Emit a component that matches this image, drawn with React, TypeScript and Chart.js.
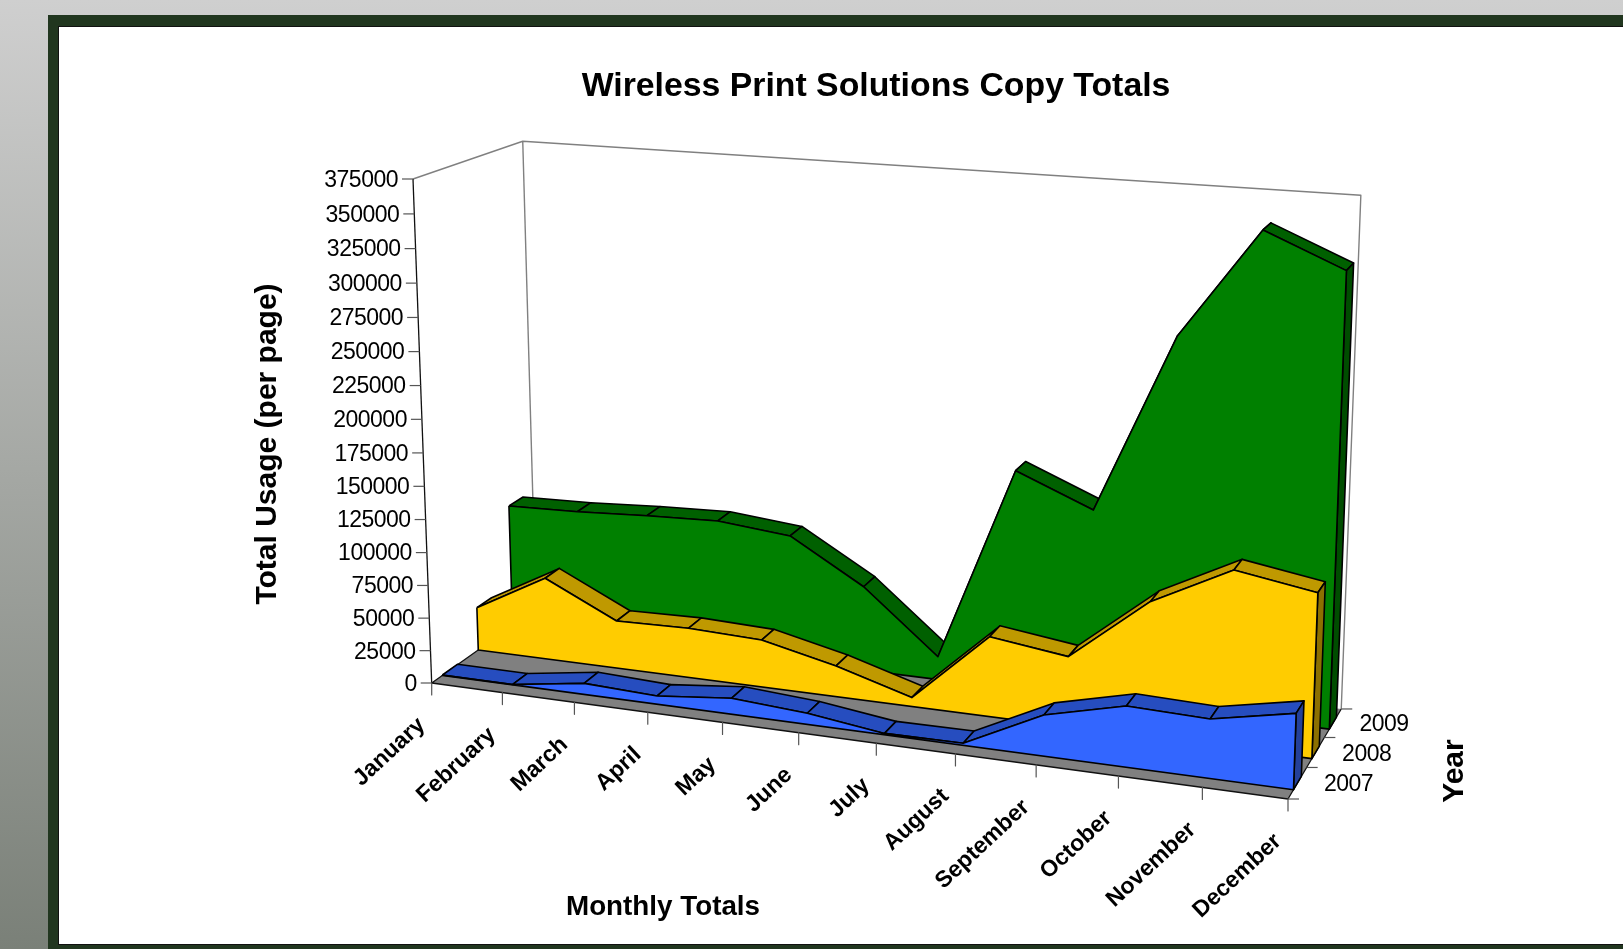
import React, { useEffect, useRef } from "react";
import { Chart, registerables } from "chart.js";

Chart.register(...registerables);

const months = ["January", "February", "March", "April", "May", "June", "July", "August", "September", "October", "November", "December"];
const years = ["2007", "2008", "2009"];
const valueTicks = [0, 25000, 50000, 75000, 100000, 125000, 150000, 175000, 200000, 225000, 250000, 275000, 300000, 325000, 350000, 375000];
const totals2007 = [300, 300, 8500, 6300, 12000, 8300, 1000, 1500, 29800, 43900, 42200, 53800];
const totals2008 = [33500, 63300, 36750, 38000, 36000, 23400, 6700, 59500, 51900, 98900, 128200, 118700];
const totals2009 = [96300, 97750, 100700, 102700, 97300, 64600, 17550, 164600, 141400, 272600, 351500, 327600];

const W = 1623;
const H = 949;
const MAX_VALUE = 375000;
const RIBBON_HALF_DEPTH = 0.07;
const BACK_WALL_TOP = 0.99;
const FONT = '"Liberation Sans", Arial, sans-serif';

// Perspective camera of the 3D box: month axis (mx), value axis (my), year axis (mz), all 0..1
function project(mx: number, my: number, mz: number) {
  const d = 1 - 0.1 * mx - 0.04 * my + 0.07 * mz;
  return {
    x: (431.7 + 727.5 * mx - 35.22 * my + 141.8 * mz) / d,
    y: (683 + 36.1 * mx - 511.16 * my - 31.4 * mz) / d,
  };
}

type P = { x: number; y: number };

function poly(points: P[], fill: string | null, stroke: string, width: number, closed = true) {
  const data = closed ? [...points, points[0]] : points;
  return {
    data,
    showLine: true,
    pointRadius: 0,
    pointHoverRadius: 0,
    borderColor: stroke,
    borderWidth: width,
    borderJoinStyle: "round" as const,
    backgroundColor: fill ?? "transparent",
    polyFill: fill,
    clip: false as const,
    tension: 0,
  };
}

const seriesStyles = [
  { values: totals2009, cell: 2, front: "#008000", top: "#006000", cap: "#004d00" },
  { values: totals2008, cell: 1, front: "#ffcc00", top: "#bf9900", cap: "#8c7000" },
  { values: totals2007, cell: 0, front: "#3366ff", top: "#264dbf", cap: "#244099" },
];

function buildDatasets() {
  const out: any[] = [];
  const grey = "#808080";
  const axis = "#111111";
  const tick = "#555555";

  // back wall cage
  out.push(poly([project(0, 1, 0), project(0, BACK_WALL_TOP, 1), project(1, BACK_WALL_TOP, 1), project(1, 0, 1)], null, grey, 1.4, false));
  out.push(poly([project(0, BACK_WALL_TOP, 1), project(0, 0, 1)], null, grey, 1.4, false));
  // floor
  out.push(poly([project(0, 0, 0), project(1, 0, 0), project(1, 0, 1), project(0, 0, 1)], grey, "transparent", 0));
  out.push(poly([project(0, 0, 1), project(0, 0, 0), project(1, 0, 0), project(1, 0, 1)], null, axis, 1.3, false));
  // value axis and ticks
  out.push(poly([project(0, 0, 0), project(0, 1, 0)], null, axis, 1.3, false));
  valueTicks.forEach((v) => {
    const p = project(0, v / MAX_VALUE, 0);
    out.push(poly([{ x: p.x - 11, y: p.y }, p], null, tick, 1.2, false));
  });
  // month ticks
  months.forEach((_, i) => {
    const p = project(i / (months.length - 1), 0, 0);
    out.push(poly([p, { x: p.x, y: p.y + 12 }], null, tick, 1.2, false));
  });
  // year ticks
  [0, 1, 2, 3].forEach((c) => {
    const p = project(1, 0, c / years.length);
    out.push(poly([p, { x: p.x + 11, y: p.y }], null, tick, 1.2, false));
  });

  seriesStyles.forEach((s) => {
    const zc = (s.cell + 0.5) / years.length;
    const zf = zc - RIBBON_HALF_DEPTH;
    const zb = zc + RIBBON_HALF_DEPTH;
    const n = s.values.length - 1;
    const f = (i: number) => project(i / n, s.values[i] / MAX_VALUE, zf);
    const b = (i: number) => project(i / n, s.values[i] / MAX_VALUE, zb);
    for (let i = 0; i < n; i++) {
      out.push(poly([f(i), f(i + 1), b(i + 1), b(i)], s.top, "#000000", 1.6));
    }
    out.push(poly([f(n), b(n), project(1, 0, zb), project(1, 0, zf)], s.cap, "#000000", 1.6));
    const face: P[] = s.values.map((_, i) => f(i));
    face.push(project(1, 0, zf), project(0, 0, zf));
    out.push(poly(face, s.front, "#000000", 1.6));
  });

  // later datasets paint over earlier ones
  out.forEach((d, i) => (d.order = -i));
  return out;
}

const polyFillPlugin = {
  id: "polyFill",
  beforeDatasetDraw(chart: any, args: any) {
    const ds = chart.data.datasets[args.index];
    if (!ds.polyFill) return;
    const ctx = chart.ctx;
    const pts = args.meta.data;
    ctx.save();
    ctx.beginPath();
    pts.forEach((p: any, i: number) => (i ? ctx.lineTo(p.x, p.y) : ctx.moveTo(p.x, p.y)));
    ctx.closePath();
    ctx.fillStyle = ds.polyFill;
    ctx.fill();
    ctx.restore();
  },
};

function rotatedText(ctx: CanvasRenderingContext2D, text: string, x: number, y: number, deg: number, align: CanvasTextAlign) {
  ctx.save();
  ctx.translate(x, y);
  ctx.rotate((deg * Math.PI) / 180);
  ctx.textAlign = align;
  ctx.textBaseline = "middle";
  ctx.fillText(text, 0, 0);
  ctx.restore();
}

const labelsPlugin = {
  id: "boxLabels",
  afterDraw(chart: any) {
    const ctx: CanvasRenderingContext2D = chart.ctx;
    const sx = chart.scales.x;
    const sy = chart.scales.y;
    const px = (p: P) => ({ x: sx.getPixelForValue(p.x), y: sy.getPixelForValue(p.y) });
    ctx.save();
    ctx.fillStyle = "#000000";

    ctx.font = `bold 33.8px ${FONT}`;
    rotatedText(ctx, "Wireless Print Solutions Copy Totals", 876, 87, 0, "center");
    ctx.font = `bold 30px ${FONT}`;
    rotatedText(ctx, "Total Usage (per page)", 268, 444, -90, "center");
    rotatedText(ctx, "Year", 1455, 771, -90, "center");
    ctx.font = `bold 27.8px ${FONT}`;
    rotatedText(ctx, "Monthly Totals", 663, 907, 0, "center");

    ctx.font = `23px ${FONT}`;
    (ctx as any).letterSpacing = "-0.5px";
    valueTicks.forEach((v) => {
      const p = px(project(0, v / MAX_VALUE, 0));
      rotatedText(ctx, String(v), p.x - 15, p.y + 1.5, 0, "right");
    });
    years.forEach((y, c) => {
      const p = px(project(1, 0, (c + 0.5) / years.length));
      rotatedText(ctx, y, p.x + 26.5, p.y + 2, 0, "left");
    });
    (ctx as any).letterSpacing = "0px";
    ctx.font = `bold 23px ${FONT}`;
    months.forEach((m, i) => {
      const p = px(project(i / (months.length - 1), 0, 0));
      rotatedText(ctx, m, p.x - 10, p.y + 39, -43, "right");
    });
    ctx.restore();
  },
};

export default function App() {
  const ref = useRef<HTMLCanvasElement>(null);
  useEffect(() => {
    const chart = new Chart(ref.current as HTMLCanvasElement, {
      type: "scatter",
      data: { datasets: buildDatasets() },
      options: {
        animation: false,
        responsive: false,
        maintainAspectRatio: false,
        layout: { padding: 0 },
        events: [],
        plugins: { legend: { display: false }, tooltip: { enabled: false }, title: { display: false } },
        scales: {
          x: { type: "linear", min: 0, max: W, display: false },
          y: { type: "linear", min: 0, max: H, reverse: true, display: false },
        },
      },
      plugins: [polyFillPlugin, labelsPlugin],
    } as any);
    return () => chart.destroy();
  }, []);
  return (
    <div
      style={{
        position: "fixed",
        left: 0,
        top: 0,
        width: W,
        height: H,
        overflow: "hidden",
        background: "linear-gradient(to bottom, #cfcfcf 0%, #7a8078 100%)",
      }}
    >
      <div style={{ position: "absolute", left: 48, top: 15, width: W, height: H, background: "#21361f" }} />
      <div
        style={{
          position: "absolute",
          left: 58,
          top: 26,
          width: W,
          height: 919,
          background: "#ffffff",
          border: "1px solid #111",
          boxSizing: "border-box",
        }}
      />
      <canvas ref={ref} width={W} height={H} style={{ position: "absolute", left: 0, top: 0, width: W, height: H }} />
    </div>
  );
}
